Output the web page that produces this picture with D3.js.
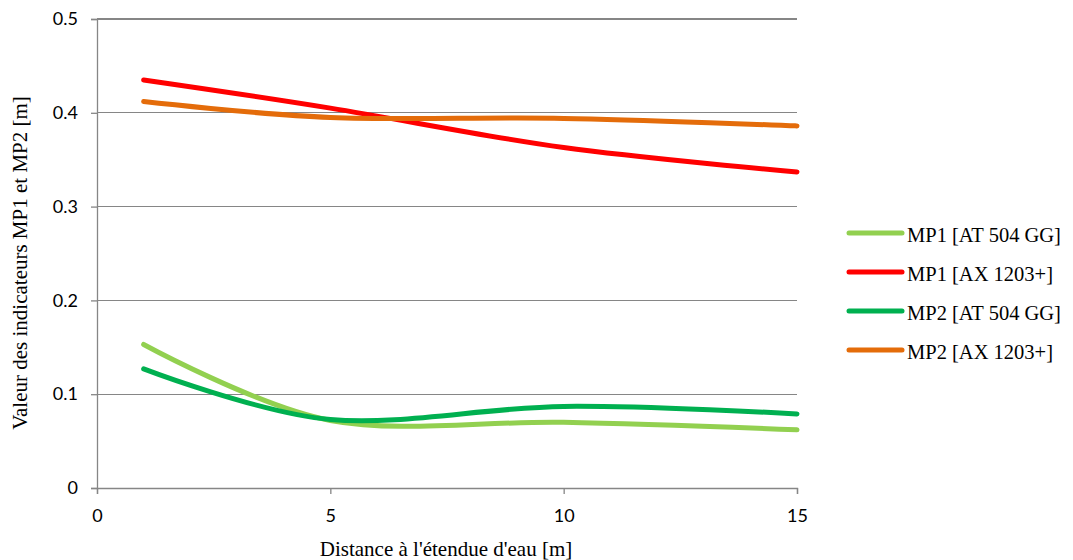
<!DOCTYPE html>
<html><head><meta charset="utf-8">
<script src="https://cdn.jsdelivr.net/npm/d3@7"></script>
<style>body{margin:0;background:#fff}svg{display:block}</style>
</head><body>
<script>
const xValues = [1, 5, 10, 15];
const seriesNames = ["MP1 [AT 504 GG]", "MP1 [AX 1203+]", "MP2 [AT 504 GG]", "MP2 [AX 1203+]"];
const mp1AT = [0.153, 0.072, 0.070, 0.062];
const mp1AX = [0.435, 0.405, 0.363, 0.337];
const mp2AT = [0.127, 0.073, 0.087, 0.079];
const mp2AX = [0.412, 0.395, 0.394, 0.386];
const seriesColors = ["#92D050", "#FF0000", "#00B050", "#E46C0A"];
const xTicks = [0, 5, 10, 15];
const yTicks = [0, 0.1, 0.2, 0.3, 0.4, 0.5];
const xTitle = "Distance à l'étendue d'eau [m]";
const yTitle = "Valeur des indicateurs MP1 et MP2 [m]";

const W = 1073, H = 560;
const svg = d3.select("body").append("svg").attr("width", W).attr("height", H);
const x = d3.scaleLinear().domain([0, 15]).range([97, 797]);
const y = d3.scaleLinear().domain([0, 0.5]).range([488, 19]);
const grid = "#868686";
const tickFont = "Lato, 'Open Sans', sans-serif";
const serif = "'Liberation Serif', 'DejaVu Serif', serif";

// gridlines
svg.append("g").selectAll("line").data(yTicks.filter(d => d > 0)).join("line")
  .attr("x1", x(0)).attr("x2", x(15)).attr("y1", d => y(d)).attr("y2", d => y(d))
  .attr("stroke", grid).attr("stroke-width", 1.3).attr("shape-rendering", "crispEdges");

// y axis
const yAxis = svg.append("g").attr("transform", `translate(${x(0)},0)`)
  .call(d3.axisLeft(y).tickValues(yTicks).tickFormat(d => d === 0 ? "0" : d3.format(".1f")(d)).tickSize(6).tickPadding(13));
// x axis
const xAxis = svg.append("g").attr("transform", `translate(0,${y(0)})`)
  .call(d3.axisBottom(x).tickValues(xTicks).tickSize(6).tickPadding(15));
[yAxis, xAxis].forEach(a => {
  a.select(".domain").attr("stroke", grid).attr("stroke-width", 1.3);
  a.selectAll(".tick line").attr("stroke", grid).attr("stroke-width", 1.3);
  a.selectAll("text").attr("font-family", tickFont).attr("font-size", 18).attr("fill", "#000");
});

// lines
const allSeries = [mp1AT, mp1AX, mp2AT, mp2AX];
const line = d3.line().x((d, i) => x(xValues[i])).y(d => y(d)).curve(d3.curveCatmullRom.alpha(0));
svg.append("g").selectAll("path").data(allSeries).join("path")
  .attr("d", d => line(d)).attr("fill", "none")
  .attr("stroke", (d, i) => seriesColors[i]).attr("stroke-width", 5)
  .attr("stroke-linecap", "round").attr("stroke-linejoin", "round");

// axis titles
svg.append("text").attr("x", 446).attr("y", 556).attr("text-anchor", "middle")
  .attr("font-family", serif).attr("font-size", 21).text(xTitle);
svg.append("text").attr("transform", `translate(27,263) rotate(-90)`).attr("text-anchor", "middle")
  .attr("font-family", serif).attr("font-size", 21).text(yTitle);

// legend
const lg = svg.append("g").selectAll("g").data(seriesNames).join("g")
  .attr("transform", (d, i) => `translate(849,${233 + i * 39})`);
lg.append("line").attr("x1", 0).attr("x2", 53).attr("y1", 0).attr("y2", 0)
  .attr("stroke", (d, i) => seriesColors[i]).attr("stroke-width", 5).attr("stroke-linecap", "round");
lg.append("text").attr("x", 58).attr("y", 8.5).attr("font-family", serif).attr("font-size", 20.5).text(d => d);
</script>
</body></html>
